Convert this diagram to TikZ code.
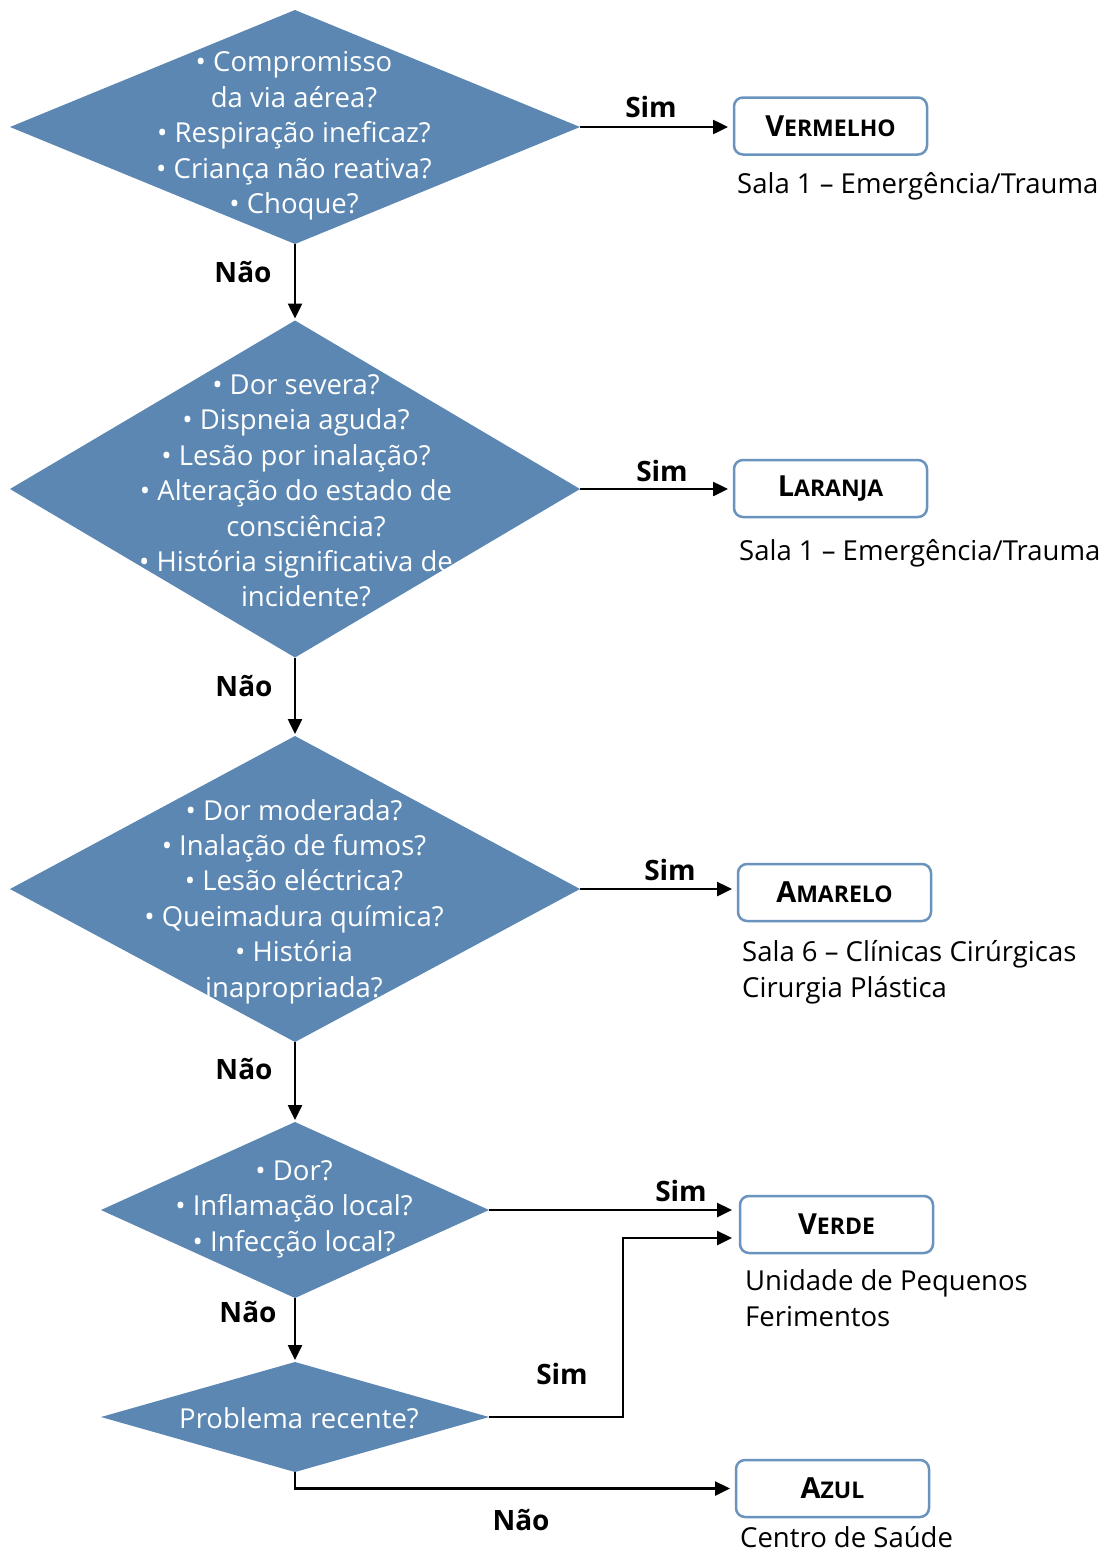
\documentclass[tikz,border=0pt]{standalone}
\usepackage{fontspec}
\setmainfont{Open Sans}
\usetikzlibrary{shapes.geometric,arrows.meta}
\definecolor{dblue}{HTML}{5B87B2}
\definecolor{bborder}{HTML}{6A93BE}
% bullet used in the question lists
\newcommand\qbul{•\ }
% colour category with a small-caps look
\newcommand\catname[2]{{\fontsize{29}{29}\selectfont #1}{\fontsize{23}{23}\selectfont #2}}
\begin{document}
\begin{tikzpicture}[x=1pt,y=-1pt,
  decision/.style={diamond, fill=dblue, draw=none, inner sep=0pt, outer sep=0pt},
  qtext/.style={text=white, align=center, font=\fontsize{27.5}{35.4}\selectfont},
  cat/.style={draw=bborder, line width=2.5pt, rounded corners=9pt, minimum width=193pt,
    minimum height=57pt, inner sep=0pt, outer sep=0pt, font=\bfseries},
  note/.style={anchor=west, align=left, inner sep=0pt, font=\fontsize{27.5}{36}\selectfont},
  lab/.style={font=\bfseries\fontsize{28}{30}\selectfont},
  flow/.style={line width=2.5pt, -{Triangle[length=15pt,width=14pt]}}]
\useasboundingbox (0,0) rectangle (1107,1553);

% decisions
\node[decision, minimum width=570pt, minimum height=234pt] (d1) at (295,127) {};
\node[decision, minimum width=570pt, minimum height=337pt] (d2) at (295,489) {};
\node[decision, minimum width=570pt, minimum height=306pt] (d3) at (295,889) {};
\node[decision, minimum width=388pt, minimum height=176pt] (d4) at (295,1210) {};
\node[decision, minimum width=388pt, minimum height=110pt] (d5) at (295,1417) {};

\node[qtext] (t1) at (294,136) {\qbul Compromisso\\da via aérea?\\\qbul Respiração ineficaz?\\\qbul Criança não reativa?\\\qbul Choque?};
\node[qtext] (t2) at (296,491) {\qbul Dor severa?\\\qbul Dispneia aguda?\\\qbul Lesão por inalação?\\\qbul Alteração do estado de\\\hspace*{20pt}consciência?\\\qbul História significativa de\\\hspace*{20pt}incidente?};
\node[qtext] (t3) at (294,901.5) {\qbul Dor moderada?\\\qbul Inalação de fumos?\\\qbul Lesão eléctrica?\\\qbul Queimadura química?\\\qbul História\\inapropriada?};
\node[qtext] (t4) at (294,1209) {\qbul Dor?\\\qbul Inflamação local?\\\qbul Infecção local?};
\node[qtext] (t5) at (299,1418) {Problema recente?};

% outcome categories
\node[cat] (b1) at (830.5,126) {\catname{V}{ERMELHO}};
\node[cat] (b2) at (830.5,488.5) {\catname{L}{ARANJA}};
\node[cat] (b3) at (834.5,892.5) {\catname{A}{MARELO}};
\node[cat] (b4) at (836.5,1224.5) {\catname{V}{ERDE}};
\node[cat] (b5) at (832.5,1488.5) {\catname{A}{ZUL}};

\node[note] (n1) at (737,186) {Sala 1 – Emergência/Trauma};
\node[note] (n2) at (739,553) {Sala 1 – Emergência/Trauma};
\node[note] (n3) at (742,972) {Sala 6 – Clínicas Cirúrgicas\\Cirurgia Plástica};
\node[note] (n4) at (745,1298.5) {Unidade de Pequenos\\Ferimentos};
\node[note] (n5) at (740,1537) {Centro de Saúde};

% "no" branches
\draw[flow, shorten >=2pt] (d1.south) -- (d2.north);
\draw[flow, shorten >=2pt] (d2.south) -- (d3.north);
\draw[flow, shorten >=2pt] (d3.south) -- (d4.north);
\draw[flow, shorten >=2pt] (d4.south) -- (d5.north);
\draw[flow, shorten >=6pt] (d5.south) |- (b5.west);

% "yes" branches
\draw[flow, shorten >=6pt] (d1.east) -- (d1.east -| b1.west);
\draw[flow, shorten >=6pt] (d2.east) -- (d2.east -| b2.west);
\draw[flow, shorten >=6pt] (d3.east) -- (d3.east -| b3.west);
\draw[flow, shorten >=8pt] (d4.east) -- (d4.east -| b4.west);
\coordinate (j5) at (623,1417);
\draw[flow, shorten >=8pt] (d5.east) -- (j5) |- ([yshift=-13.5pt]b4.west);

% branch labels
\node[lab] (s1) at (651,107) {Sim};
\node[lab] (s2) at (662,471) {Sim};
\node[lab] (s3) at (670,870) {Sim};
\node[lab] (s4) at (681,1191) {Sim};
\node[lab] (s5) at (562,1374) {Sim};
\node[lab] (m1) at (243,272) {Não};
\node[lab] (m2) at (244,686) {Não};
\node[lab] (m3) at (244,1069) {Não};
\node[lab] (m4) at (248,1312) {Não};
\node[lab] (m5) at (521,1520) {Não};
\end{tikzpicture}
\end{document}
